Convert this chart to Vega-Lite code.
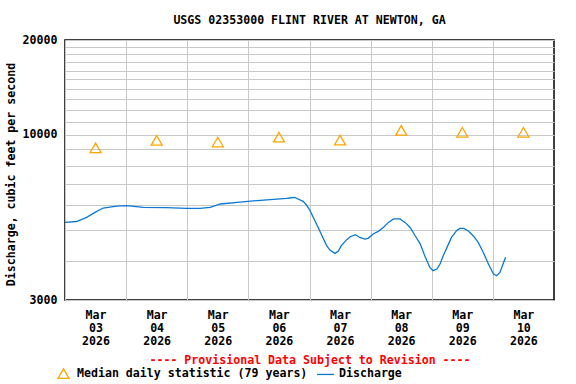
{
  "$schema": "https://vega.github.io/schema/vega-lite/v6.json",
  "width": 489,
  "height": 260,
  "autosize": {"type": "none"},
  "padding": {"left": 65, "top": 40, "right": 22, "bottom": 84},
  "background": "white",
  "title": {
    "text": "USGS 02353000 FLINT RIVER AT NEWTON, GA",
    "font": "DejaVu Sans Mono",
    "fontSize": 11.6,
    "fontWeight": "bold",
    "color": "black",
    "anchor": "middle",
    "offset": 7
  },
  "config": {
    "view": {"stroke": "black", "strokeWidth": 1.5},
    "font": "DejaVu Sans Mono"
  },
  "datasets": {
    "discharge": [
      {"time": "2026-03-03T00:00", "cfs": 5285},
      {"time": "2026-03-03T04:30", "cfs": 5320},
      {"time": "2026-03-03T08:30", "cfs": 5480},
      {"time": "2026-03-03T11:45", "cfs": 5685},
      {"time": "2026-03-03T15:00", "cfs": 5870},
      {"time": "2026-03-03T20:15", "cfs": 5955},
      {"time": "2026-03-04T00:15", "cfs": 5975},
      {"time": "2026-03-04T06:45", "cfs": 5895},
      {"time": "2026-03-04T15:45", "cfs": 5885},
      {"time": "2026-03-04T23:45", "cfs": 5850},
      {"time": "2026-03-05T05:00", "cfs": 5850},
      {"time": "2026-03-05T09:00", "cfs": 5895},
      {"time": "2026-03-05T13:00", "cfs": 6045},
      {"time": "2026-03-05T20:45", "cfs": 6130},
      {"time": "2026-03-06T06:00", "cfs": 6220},
      {"time": "2026-03-06T15:00", "cfs": 6300},
      {"time": "2026-03-06T16:15", "cfs": 6315},
      {"time": "2026-03-06T18:15", "cfs": 6340},
      {"time": "2026-03-06T19:30", "cfs": 6270},
      {"time": "2026-03-06T21:30", "cfs": 6160},
      {"time": "2026-03-06T22:45", "cfs": 6010},
      {"time": "2026-03-07T00:15", "cfs": 5755},
      {"time": "2026-03-07T01:30", "cfs": 5480},
      {"time": "2026-03-07T02:45", "cfs": 5225},
      {"time": "2026-03-07T04:00", "cfs": 4975},
      {"time": "2026-03-07T05:30", "cfs": 4680},
      {"time": "2026-03-07T06:45", "cfs": 4460},
      {"time": "2026-03-07T08:00", "cfs": 4320},
      {"time": "2026-03-07T10:00", "cfs": 4215},
      {"time": "2026-03-07T11:15", "cfs": 4280},
      {"time": "2026-03-07T12:30", "cfs": 4460},
      {"time": "2026-03-07T14:30", "cfs": 4650},
      {"time": "2026-03-07T16:00", "cfs": 4760},
      {"time": "2026-03-07T18:00", "cfs": 4830},
      {"time": "2026-03-07T19:45", "cfs": 4735},
      {"time": "2026-03-07T21:45", "cfs": 4680},
      {"time": "2026-03-07T23:00", "cfs": 4705},
      {"time": "2026-03-08T01:00", "cfs": 4855},
      {"time": "2026-03-08T03:00", "cfs": 4950},
      {"time": "2026-03-08T05:00", "cfs": 5095},
      {"time": "2026-03-08T07:00", "cfs": 5285},
      {"time": "2026-03-08T09:00", "cfs": 5420},
      {"time": "2026-03-08T11:30", "cfs": 5420},
      {"time": "2026-03-08T13:30", "cfs": 5285},
      {"time": "2026-03-08T15:30", "cfs": 5095},
      {"time": "2026-03-08T17:30", "cfs": 4795},
      {"time": "2026-03-08T19:30", "cfs": 4510},
      {"time": "2026-03-08T21:15", "cfs": 4145},
      {"time": "2026-03-08T23:15", "cfs": 3805},
      {"time": "2026-03-09T00:30", "cfs": 3715},
      {"time": "2026-03-09T02:00", "cfs": 3760},
      {"time": "2026-03-09T03:15", "cfs": 3900},
      {"time": "2026-03-09T04:30", "cfs": 4145},
      {"time": "2026-03-09T06:00", "cfs": 4405},
      {"time": "2026-03-09T07:45", "cfs": 4735},
      {"time": "2026-03-09T09:45", "cfs": 4975},
      {"time": "2026-03-09T11:00", "cfs": 5060},
      {"time": "2026-03-09T12:30", "cfs": 5060},
      {"time": "2026-03-09T14:15", "cfs": 4975},
      {"time": "2026-03-09T16:15", "cfs": 4795},
      {"time": "2026-03-09T18:15", "cfs": 4565},
      {"time": "2026-03-09T20:15", "cfs": 4245},
      {"time": "2026-03-09T22:15", "cfs": 3900},
      {"time": "2026-03-10T00:15", "cfs": 3625},
      {"time": "2026-03-10T01:30", "cfs": 3580},
      {"time": "2026-03-10T02:45", "cfs": 3670},
      {"time": "2026-03-10T04:00", "cfs": 3900},
      {"time": "2026-03-10T05:00", "cfs": 4095}
    ],
    "median": [
      {"time": "2026-03-03T12:00", "cfs": 9100},
      {"time": "2026-03-04T12:00", "cfs": 9610},
      {"time": "2026-03-05T12:00", "cfs": 9500},
      {"time": "2026-03-06T12:00", "cfs": 9840},
      {"time": "2026-03-07T12:00", "cfs": 9630},
      {"time": "2026-03-08T12:00", "cfs": 10340},
      {"time": "2026-03-09T12:00", "cfs": 10200},
      {"time": "2026-03-10T12:00", "cfs": 10200}
    ]
  },
  "layer": [
    {
      "data": {"name": "discharge"},
      "transform": [{"calculate": "'Discharge'", "as": "series"}],
      "mark": {"type": "line", "strokeWidth": 1.3, "clip": true},
      "encoding": {
        "x": {
          "field": "time",
          "type": "temporal",
          "scale": {"domain": [{"year": 2026, "month": 3, "date": 3}, {"year": 2026, "month": 3, "date": 11}]},
          "axis": {
            "values": [
              {"year": 2026, "month": 3, "date": 3},
              {"year": 2026, "month": 3, "date": 4},
              {"year": 2026, "month": 3, "date": 5},
              {"year": 2026, "month": 3, "date": 6},
              {"year": 2026, "month": 3, "date": 7},
              {"year": 2026, "month": 3, "date": 8},
              {"year": 2026, "month": 3, "date": 9},
              {"year": 2026, "month": 3, "date": 10}
            ],
            "labelExpr": "[timeFormat(datum.value, '%b'), timeFormat(datum.value, '%d'), timeFormat(datum.value, '%Y')]",
            "labelOffset": 30.5,
            "labelFlush": false,
            "labelOverlap": false,
            "labelBound": false,
            "labelFont": "DejaVu Sans Mono",
            "labelFontSize": 11.6,
            "labelFontWeight": "bold",
            "labelColor": "black",
            "labelLineHeight": 13,
            "labelPadding": 9,
            "labelAngle": 0,
            "labelAlign": "center",
            "ticks": false,
            "domain": false,
            "grid": true,
            "gridColor": "#c8c8c8",
            "gridWidth": 1,
            "title": "---- Provisional Data Subject to Revision ----",
            "titleColor": "red",
            "titleFont": "DejaVu Sans Mono",
            "titleFontSize": 11.6,
            "titleFontWeight": "bold",
            "titlePadding": 8
          }
        },
        "y": {
          "field": "cfs",
          "type": "quantitative",
          "scale": {"type": "log", "domain": [3000, 20000], "nice": false},
          "axis": {
            "values": [3000, 4000, 5000, 6000, 7000, 8000, 9000, 10000, 11000, 12000, 13000, 14000, 15000, 16000, 17000, 18000, 19000, 20000],
            "format": "d",
            "labelExpr": "indexof([3000, 10000, 20000], datum.value) >= 0 ? datum.label : ''",
            "labelOverlap": false,
            "labelFont": "DejaVu Sans Mono",
            "labelFontSize": 11.6,
            "labelFontWeight": "bold",
            "labelColor": "black",
            "labelPadding": 8,
            "labelBound": false,
            "labelFlush": false,
            "ticks": false,
            "domain": false,
            "grid": true,
            "gridColor": "#c8c8c8",
            "gridWidth": 1,
            "title": "Discharge, cubic feet per second",
            "titleFont": "DejaVu Sans Mono",
            "titleFontSize": 11.6,
            "titleFontWeight": "bold",
            "titleColor": "black",
            "titlePadding": 6,
            "titleY": 134
          }
        },
        "color": {
          "field": "series",
          "type": "nominal",
          "scale": {"domain": ["Median daily statistic (79 years)", "Discharge"], "range": ["#FFA500", "#0a78d2"]},
          "legend": {
            "orient": "none",
            "legendX": -8,
            "legendY": 327,
            "direction": "horizontal",
            "title": null,
            "labelFont": "DejaVu Sans Mono",
            "labelFontSize": 11.6,
            "labelFontWeight": "bold",
            "labelColor": "black",
            "labelLimit": 400,
            "labelOffset": 7,
            "columnPadding": 6,
            "symbolSize": 140,
            "symbolStrokeWidth": 1.3,
            "encode": {
              "symbols": {
                "update": {
                  "size": {"signal": "datum.value === 'Discharge' ? 289 : 121"}
                }
              }
            }
          }
        }
      }
    },
    {
      "data": {"name": "median"},
      "transform": [{"calculate": "'Median daily statistic (79 years)'", "as": "series"}],
      "mark": {"type": "point", "filled": false, "size": 121, "strokeWidth": 1.3, "opacity": 1},
      "encoding": {
        "x": {"field": "time", "type": "temporal"},
        "y": {"field": "cfs", "type": "quantitative"},
        "color": {"field": "series", "type": "nominal"},
        "shape": {
          "field": "series",
          "type": "nominal",
          "scale": {"domain": ["Median daily statistic (79 years)", "Discharge"], "range": ["triangle-up", "stroke"]}
        }
      }
    }
  ]
}
